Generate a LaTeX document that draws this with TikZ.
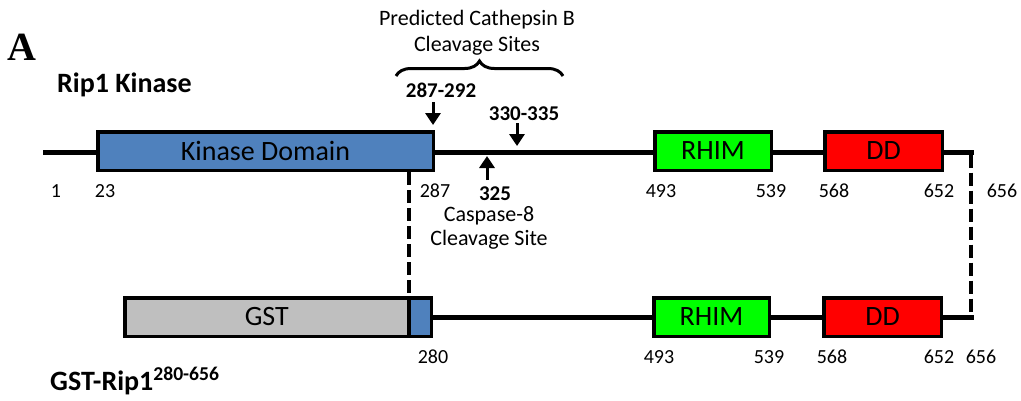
\documentclass[tikz,border=0pt]{standalone}
\usepackage{fontspec}
\newfontfamily\carl{Carlito}
\newfontfamily\tnr{Liberation Serif}
\usetikzlibrary{arrows.meta,decorations.pathreplacing}
\definecolor{kblue}{HTML}{4F81BD}
\definecolor{gstgray}{HTML}{BFBFBF}
\definecolor{rhimgreen}{HTML}{00FF00}
\definecolor{ddred}{HTML}{FF0000}
\begin{document}
\begin{tikzpicture}[x=1pt,y=-1pt,
  dom/.style={draw=black,line width=3.5pt,rectangle,inner sep=0pt,minimum height=38.5pt,font=\carl\fontsize{28}{30}\selectfont},
  bb/.style={line width=5pt},
  dsh/.style={line width=4.5pt,dash pattern=on 13pt off 5pt},
  num/.style={inner sep=0pt,anchor=base,font=\carl\fontsize{20}{22}\selectfont},
  bnum/.style={inner sep=0pt,anchor=base,font=\carl\bfseries\fontsize{21}{22}\selectfont},
  txt/.style={inner sep=0pt,align=center,font=\carl\fontsize{22}{26}\selectfont},
  arr/.style={line width=3pt,-{Triangle[width=15pt,length=12pt]}}]
\useasboundingbox (0,0) rectangle (1021,400);
% top construct
\node[dom,fill=kblue,minimum width=335.5pt] (kin) at (265.5,151) {Kinase Domain};
\node[dom,fill=rhimgreen,minimum width=116.5pt] (rhim1) at (713,151) {RHIM};
\node[dom,fill=ddred,minimum width=117.5pt] (dd1) at (883.5,151) {DD};
\coordinate (s1) at (43,152);
\coordinate (e1) at (971,152);
\draw[bb] (s1) -- (kin.west|-s1);
\draw[bb] (kin.east|-s1) -- (rhim1.west|-s1);
\draw[bb] (rhim1.east|-s1) -- (dd1.west|-s1);
\draw[bb] (dd1.east|-s1) -- ([xshift=2.5pt]e1);
% bottom construct
\node[dom,fill=gstgray,minimum width=284pt] (gst) at (266.75,317) {GST};
\node[dom,fill=kblue,minimum width=22.5pt] (frag) at (420,317) {};
\node[dom,fill=rhimgreen,minimum width=115.5pt] (rhim2) at (711.5,317) {RHIM};
\node[dom,fill=ddred,minimum width=117.5pt] (dd2) at (882.5,317) {DD};
\coordinate (e2) at (971,317);
\draw[bb] (frag.east) -- (rhim2.west);
\draw[bb] (rhim2.east) -- (dd2.west);
\draw[bb] (dd2.east) -- ([xshift=2.5pt]e2);
% dashed links
\coordinate (k287) at (408.75,172);
\draw[dsh] (k287) -- (k287|-gst.north);
\draw[dsh] ([yshift=-2.5pt]e1) -- ([yshift=2.5pt]e2);
% labels
\node[inner sep=0pt,anchor=base,font=\tnr\bfseries\fontsize{40}{42}\selectfont] (A) at (22,60) {A};
\node[inner sep=0pt,anchor=base west,font=\carl\bfseries\fontsize{28}{30}\selectfont] (rip) at (57,92) {Rip1 Kinase};
\node[inner sep=0pt,anchor=base west,font=\carl\bfseries\fontsize{28}{30}\selectfont] (gstrip) at (50,390) {GST-Rip1\textsuperscript{280-656}};
\node[txt] (cath) at (477,33) {Predicted Cathepsin B\\Cleavage Sites};
\draw[line width=3pt,decorate,decoration={brace,amplitude=15pt}] (396,76) -- (563,76);
\node[txt,font=\carl\fontsize{22}{24}\selectfont] (casp) at (489,228) {Caspase-8\\Cleavage Site};
% numbers top
\node[num] (n1) at (56,197) {1};
\node[num] (n23) at (105,197) {23};
\node[num] (n287) at (435,197) {287};
\node[num] (n493a) at (661,197) {493};
\node[num] (n539a) at (771,197) {539};
\node[num] (n568a) at (834,197) {568};
\node[num] (n652a) at (939,197) {652};
\node[num] (n656a) at (1002,197) {656};
% numbers bottom
\node[num] (n280) at (433,363) {280};
\node[num] (n493b) at (659,363) {493};
\node[num] (n539b) at (769,363) {539};
\node[num] (n568b) at (832,363) {568};
\node[num] (n652b) at (939,363) {652};
\node[num] (n656b) at (981,363) {656};
% cleavage sites
\node[bnum] (c1) at (441,97) {287-292};
\node[bnum] (c2) at (524,120) {330-335};
\node[bnum] (c3) at (495,200) {325};
\coordinate (a1s) at (433,102);
\coordinate (a1e) at (433,125);
\coordinate (a2s) at (517,123);
\coordinate (a2e) at (517,146);
\coordinate (a3s) at (487,180);
\coordinate (a3e) at (487,156);
\draw[arr] (a1s) -- (a1e);
\draw[arr] (a2s) -- (a2e);
\draw[arr] (a3s) -- (a3e);
\end{tikzpicture}
\end{document}
